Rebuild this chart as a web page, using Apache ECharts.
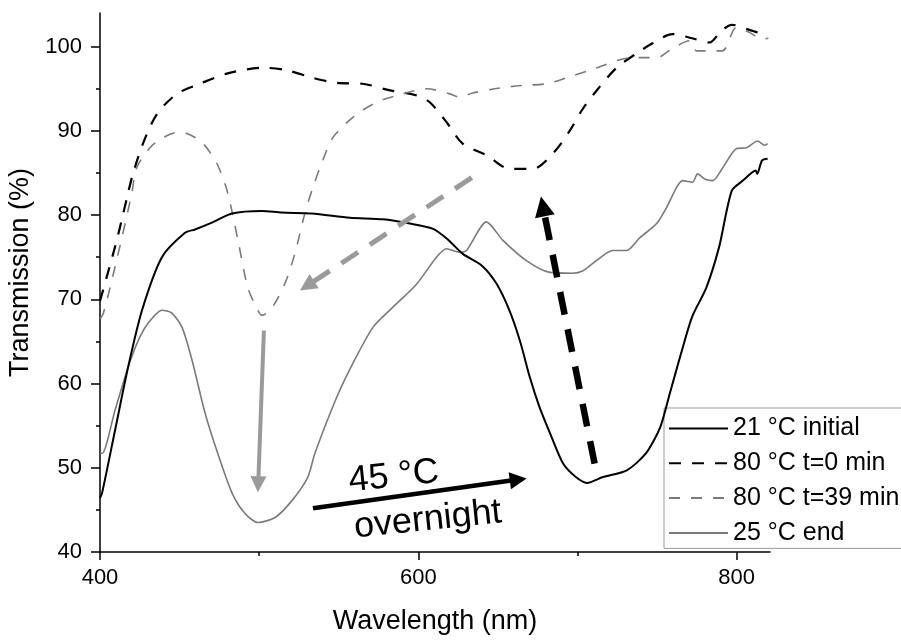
<!DOCTYPE html>
<html><head><meta charset="utf-8">
<script src="https://cdn.jsdelivr.net/npm/echarts@6/dist/echarts.min.js"></script>
<style>html,body{margin:0;padding:0;background:#fff}#c{width:901px;height:641px}</style>
</head><body><div id="c"></div>
<script>
const FONT = '"Liberation Sans", Arial, Helvetica, sans-serif';

const seriesNames = ['21 °C initial', '80 °C t=0 min', '80 °C t=39 min', '25 °C end'];

const wl_21_initial = [400, 401.3, 409.4, 417.6, 426.4, 438.9, 453.4, 459.7, 470.3, 482.9, 501.7, 514.3, 533.1, 557, 577.7, 594.7, 609, 618, 628, 640, 649, 657, 664, 670, 676, 683, 691, 699, 706, 716, 731, 743, 752, 758, 765, 772, 781, 789, 797, 804, 812, 813, 816, 819.5];
const tr_21_initial = [46.4, 47, 54.4, 61.9, 68.7, 75, 77.9, 78.3, 79.1, 80.2, 80.5, 80.3, 80.2, 79.7, 79.5, 79.0, 78.4, 77.2, 75.4, 74, 71.9, 68.8, 65, 60.8, 57.3, 54, 50.5, 48.9, 48.2, 48.9, 49.7, 51.7, 54.8, 58.8, 63.5, 67.9, 71.4, 76.2, 82.9, 84.1, 85.3, 84.9, 86.5, 86.7];

const wl_80_t0 = [400, 409.4, 414, 417.6, 420.7, 427, 435.8, 448.4, 462.8, 479.7, 502.4, 517.4, 533.8, 548.8, 565.1, 580.2, 599.1, 607.2, 617.9, 627.9, 643, 657.5, 671.9, 684.5, 695.1, 703.3, 712.1, 724.6, 737.2, 747.2, 759.8, 772, 783, 790, 797, 808, 816, 820];
const tr_80_t0 = [69.8, 76.2, 79.7, 82.6, 84.9, 88.5, 92, 94.4, 95.6, 96.8, 97.5, 97.2, 96.3, 95.7, 95.6, 94.9, 94.2, 93.4, 91, 88.5, 87.1, 85.5, 85.5, 87.3, 90, 92.6, 94.8, 97.5, 99.2, 100.4, 101.5, 101, 100.5, 101.8, 102.6, 102, 101.6, 101.7];

const wl_80_t39 = [400, 402, 409.4, 420, 423, 431.4, 439.6, 448.4, 454.6, 464.7, 473.5, 480, 486.7, 492.9, 499.2, 501.7, 508, 516.2, 522.4, 528.7, 533.8, 540, 546.3, 558.9, 573.9, 590.3, 605.3, 619.8, 626, 634.2, 651.2, 665.6, 680.7, 693.2, 707.7, 734.7, 749.8, 759.8, 770.5, 775, 781, 791, 800, 808, 816, 820];
const tr_80_t39 = [67.7, 68.3, 73.8, 82.6, 85.6, 88, 89.2, 89.8, 89.7, 88.5, 86.1, 82.8, 77, 71.4, 68.7, 68.1, 69, 71.9, 75.4, 80.2, 83.3, 86.5, 89.2, 91.6, 93.4, 94.4, 95, 94.4, 94, 94.5, 95.1, 95.4, 95.6, 96.3, 97.2, 98.7, 98.7, 99.8, 100.7, 99.5, 99.5, 99.5, 102.3, 101.7, 100.9, 101];

const wl_25_end = [400, 401.3, 409.4, 417.6, 424, 430, 439, 445, 451.5, 457.8, 466, 474, 483, 491, 499.2, 510, 520.6, 530.6, 535, 548.8, 558.9, 571.6, 584.2, 598.9, 611.4, 617.7, 626.1, 630.3, 642.8, 653.2, 667.9, 682.6, 697, 703.5, 711.9, 722.1, 730.9, 739.1, 749.8, 756, 762.3, 766.1, 772.4, 775.5, 779.9, 785, 791.2, 800, 806.3, 813.2, 817.6, 819.5];
const tr_25_end = [51.8, 51.7, 56.8, 61.9, 65.1, 67.1, 68.7, 68.4, 66.7, 62.8, 56.5, 51.7, 47, 44.6, 43.5, 44.1, 46.1, 48.9, 51.7, 58.4, 62.4, 66.7, 69.1, 71.8, 75.0, 76.0, 75.6, 75.8, 79.2, 77.0, 74.6, 73.2, 73.1, 73.4, 74.6, 75.8, 75.8, 77.3, 79, 80.9, 83.3, 84.1, 83.9, 84.9, 84.3, 84.1, 85.6, 87.9, 88, 88.8, 88.3, 88.5];

const xMajorTicks = [400, 600, 800];
const xMinorTicks = [500, 700];
const yMajorTicks = [40, 50, 60, 70, 80, 90, 100];
const yMinorTicks = [45, 55, 65, 75, 85, 95];

// annotation arrows in data coordinates: [start, arrowhead centre]
const arrowGreyDashed = [[633.6, 84.46], [530.1, 71.61]];
const arrowGreySolid = [[503.0, 66.3], [499.4, 48.04]];
const arrowBlackDashed = [[710.8, 50.5], [678.3, 81.04]];
const arrowBlackSolid = [[533.8, 45.2], [662.8, 48.6]];
const annotationTexts = ['45 °C', 'overnight'];
const annotationAnchors = [[584.6, 48.95], [606, 43.8]];

const zip = (a, b) => a.map((v, i) => [v, b[i]]);

const chart = echarts.init(document.getElementById('c'), null, {renderer: 'canvas'});

const baseAxis = {
  axisLine: {show: true, lineStyle: {color: '#000', width: 1.5}},
  splitLine: {show: false},
  minorTick: {show: false}
};

function arrow(pts, color, width, type, size) {
  return [
    {coord: pts[0], symbol: 'none', lineStyle: {color: color, width: width, type: type}},
    {coord: pts[1], symbol: 'triangle', symbolSize: size}
  ];
}

const option = {
  animation: false,
  backgroundColor: '#fff',
  textStyle: {fontFamily: FONT},
  grid: {left: 100, right: 131, top: 13, bottom: 89, outerBoundsMode: 'none', containLabel: false},
  xAxis: [
    Object.assign({}, baseAxis, {
      type: 'value', min: 400, max: 821,
      name: 'Wavelength (nm)', nameLocation: 'middle', nameGap: 56,
      nameTextStyle: {fontSize: 27, color: '#000', fontFamily: FONT},
      axisTick: {show: true, length: 8, customValues: xMajorTicks, lineStyle: {color: '#000', width: 1.5}},
      axisLabel: {show: true, customValues: xMajorTicks, fontSize: 22, color: '#000', margin: 15, fontFamily: FONT}
    }),
    {
      type: 'value', min: 400, max: 821, position: 'bottom',
      axisLine: {show: false}, splitLine: {show: false}, axisLabel: {show: false},
      axisTick: {show: true, length: 4, customValues: xMinorTicks, lineStyle: {color: '#000', width: 1.5}}
    }
  ],
  yAxis: [
    Object.assign({}, baseAxis, {
      type: 'value', min: 40, max: 104,
      name: 'Transmission (%)', nameLocation: 'middle', nameGap: 62,
      nameTextStyle: {fontSize: 27, color: '#000', fontFamily: FONT, padding: [0, 0, 0, 20]},
      axisTick: {show: true, length: 9, customValues: yMajorTicks, lineStyle: {color: '#000', width: 1.5}},
      axisLabel: {show: true, customValues: yMajorTicks, fontSize: 22, color: '#000', margin: 18, fontFamily: FONT}
    }),
    {
      type: 'value', min: 40, max: 104, position: 'left',
      axisLine: {show: false}, splitLine: {show: false}, axisLabel: {show: false},
      axisTick: {show: true, length: 4, customValues: yMinorTicks, lineStyle: {color: '#000', width: 1.5}}
    }
  ],
  legend: {
    orient: 'vertical', left: 664, top: 408,
    padding: [8, 12, 3, 4],
    itemWidth: 59, itemHeight: 14, itemGap: 9.8,
    borderColor: '#9a9a9a', borderWidth: 1, backgroundColor: '#fff',
    itemStyle: {opacity: 0},
    textStyle: {fontSize: 25, lineHeight: 25, color: '#000', fontFamily: FONT},
    data: seriesNames
  },
  series: [
    {name: seriesNames[0], type: 'line', data: zip(wl_21_initial, tr_21_initial), showSymbol: false, symbol: 'none', smooth: 0.25,
     lineStyle: {color: '#000', width: 2}, itemStyle: {color: '#000'}, z: 4},
    {name: seriesNames[1], type: 'line', data: zip(wl_80_t0, tr_80_t0), showSymbol: false, symbol: 'none', smooth: 0.3,
     lineStyle: {color: '#000', width: 2.2, type: [12, 11]}, itemStyle: {color: '#000'}, z: 3},
    {name: seriesNames[2], type: 'line', data: zip(wl_80_t39, tr_80_t39), showSymbol: false, symbol: 'none', smooth: 0.3,
     lineStyle: {color: '#7a7a7a', width: 1.6, type: [11, 11]}, itemStyle: {color: '#7a7a7a'}, z: 3},
    {name: seriesNames[3], type: 'line', data: zip(wl_25_end, tr_25_end), showSymbol: false, symbol: 'none', smooth: 0.25,
     lineStyle: {color: '#7a7a7a', width: 1.6}, itemStyle: {color: '#7a7a7a'}, z: 3},
    {
      name: 'annotations', type: 'line', data: [], z: 5,
      markLine: {
        silent: true, animation: false,
        label: {show: false},
        emphasis: {disabled: true},
        data: [
          arrow(arrowGreyDashed, '#9a9a9a', 5, [20, 14], 17),
          arrow(arrowGreySolid, '#9a9a9a', 4, 'solid', 16),
          arrow(arrowBlackDashed, '#000', 6.5, [23, 15], 20),
          arrow(arrowBlackSolid, '#000', 4.5, 'solid', 17)
        ]
      }
    }
  ]
};
chart.setOption(option);

const rot = 6 * Math.PI / 180;
const graphics = annotationTexts.map((t, i) => {
  const p = chart.convertToPixel({gridIndex: 0}, annotationAnchors[i]);
  return {
    type: 'text', x: p[0], y: p[1], rotation: rot, z: 10,
    style: {text: t, fontSize: 36, fontFamily: FONT, fill: '#000', align: 'center', verticalAlign: 'middle'}
  };
});
chart.setOption({graphic: graphics});
</script>
</body></html>
